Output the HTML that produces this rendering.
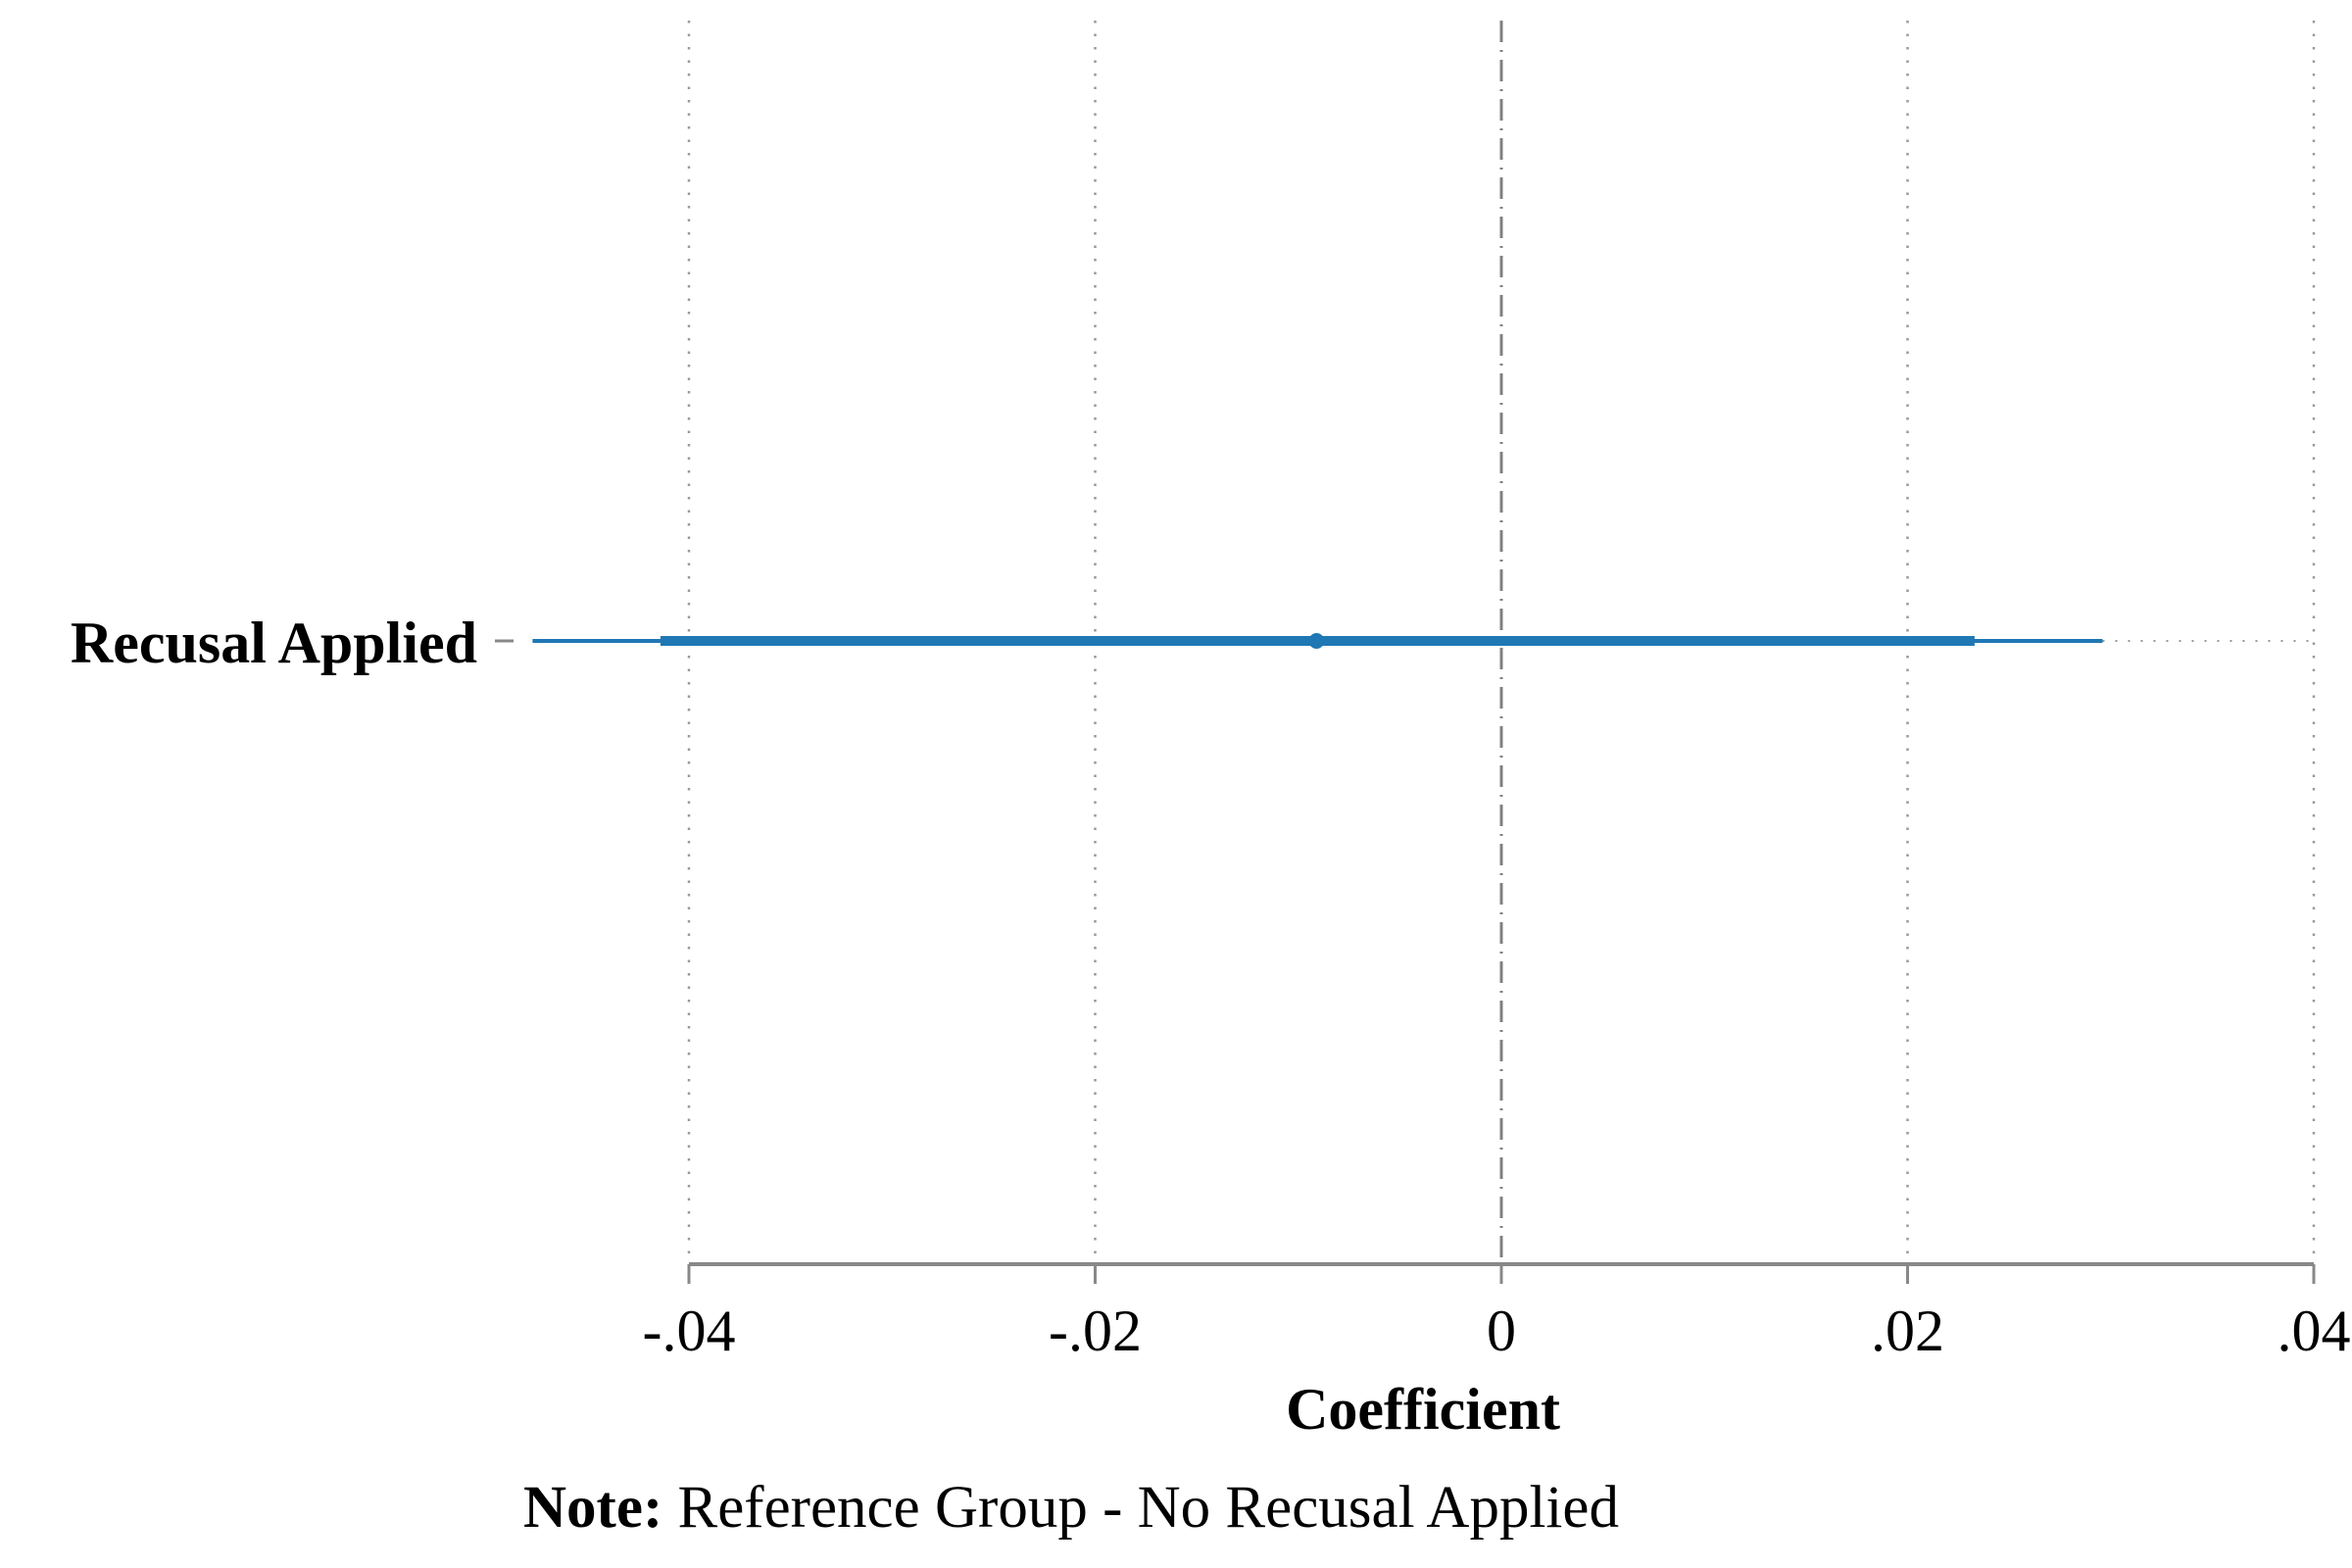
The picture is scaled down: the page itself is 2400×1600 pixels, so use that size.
<!DOCTYPE html>
<html><head><meta charset="utf-8"><style>
body{margin:0;background:#fff}
svg{display:block}
text{font-family:"Liberation Serif",serif;fill:#000}
</style></head><body>
<svg id="chart" width="2400" height="1600" viewBox="0 0 2400 1600">
<g id="grid"></g>
<g id="axis"></g>
<g id="marks"></g>
<text x="487" y="676" font-size="60" font-weight="bold" text-anchor="end">Recusal Applied</text>
<line x1="505" y1="654" x2="524" y2="654" stroke="#888" stroke-width="3"/>
<text x="1452" y="1458" font-size="60" font-weight="bold" text-anchor="middle">Coefficient</text>
<text x="534" y="1558" font-size="61"><tspan font-weight="bold">Note:</tspan> Reference Group - No Recusal Applied</text>
</svg>
<script>
const ticks=[-0.04,-0.02,0,0.02,0.04];
const tickLabels=["-.04","-.02","0",".02",".04"];
const categories=["Recusal Applied"];
const estimates=[-0.0091];
const ci95Low=[-0.0477];
const ci95High=[0.0296];
const ci90Low=[-0.0414];
const ci90High=[0.0233];
const NS="http://www.w3.org/2000/svg";
function xs(v){return 1532+v*20725;}
function ys(i){return 654;}
function mk(tag,attrs,parent){const e=document.createElementNS(NS,tag);for(const k in attrs)e.setAttribute(k,attrs[k]);parent.appendChild(e);return e;}
const grid=document.getElementById('grid'),axis=document.getElementById('axis'),marks=document.getElementById('marks');
ticks.forEach((t,i)=>{
  const x=xs(t);
  let g;
  if(t===0){g=mk('line',{x1:x,y1:21,x2:x,y2:1290,stroke:'#808080','stroke-width':3,'stroke-dasharray':'22 8 2 8'},grid);
    }
  else{g=mk('line',{x1:x,y1:21,x2:x,y2:1290,stroke:'#999','stroke-width':2.5,'stroke-dasharray':'2.5 11'},grid);
    }
  
  const tk=mk('line',{x1:x,y1:1290,x2:x,y2:1310,stroke:'#888','stroke-width':3},axis);
  
  
  const lb=mk('text',{x:x,y:1378,'font-size':60,'text-anchor':'middle'},axis);
  lb.textContent=tickLabels[i];
  
  
});
const al=mk('line',{x1:xs(ticks[0]),y1:1290,x2:xs(ticks[ticks.length-1]),y2:1290,stroke:'#888','stroke-width':4},axis);


categories.forEach((c,i)=>{
  const y=ys(i);
  const ext=mk('line',{x1:xs(ci95High[i]),y1:y,x2:xs(ticks[ticks.length-1])+5,y2:y,stroke:'#999','stroke-width':2,'stroke-dasharray':'2 11'},marks);
  
  
  const l95=mk('line',{x1:xs(ci95Low[i]),y1:y,x2:xs(ci95High[i]),y2:y,stroke:'#1f77b4','stroke-width':4},marks);
  
  
  const l90=mk('line',{x1:xs(ci90Low[i]),y1:y,x2:xs(ci90High[i]),y2:y,stroke:'#1f77b4','stroke-width':10},marks);
  
  
  const p=mk('circle',{cx:xs(estimates[i]),cy:y,r:8,fill:'#1f77b4'},marks);
  
  
});
</script>
</body></html>
